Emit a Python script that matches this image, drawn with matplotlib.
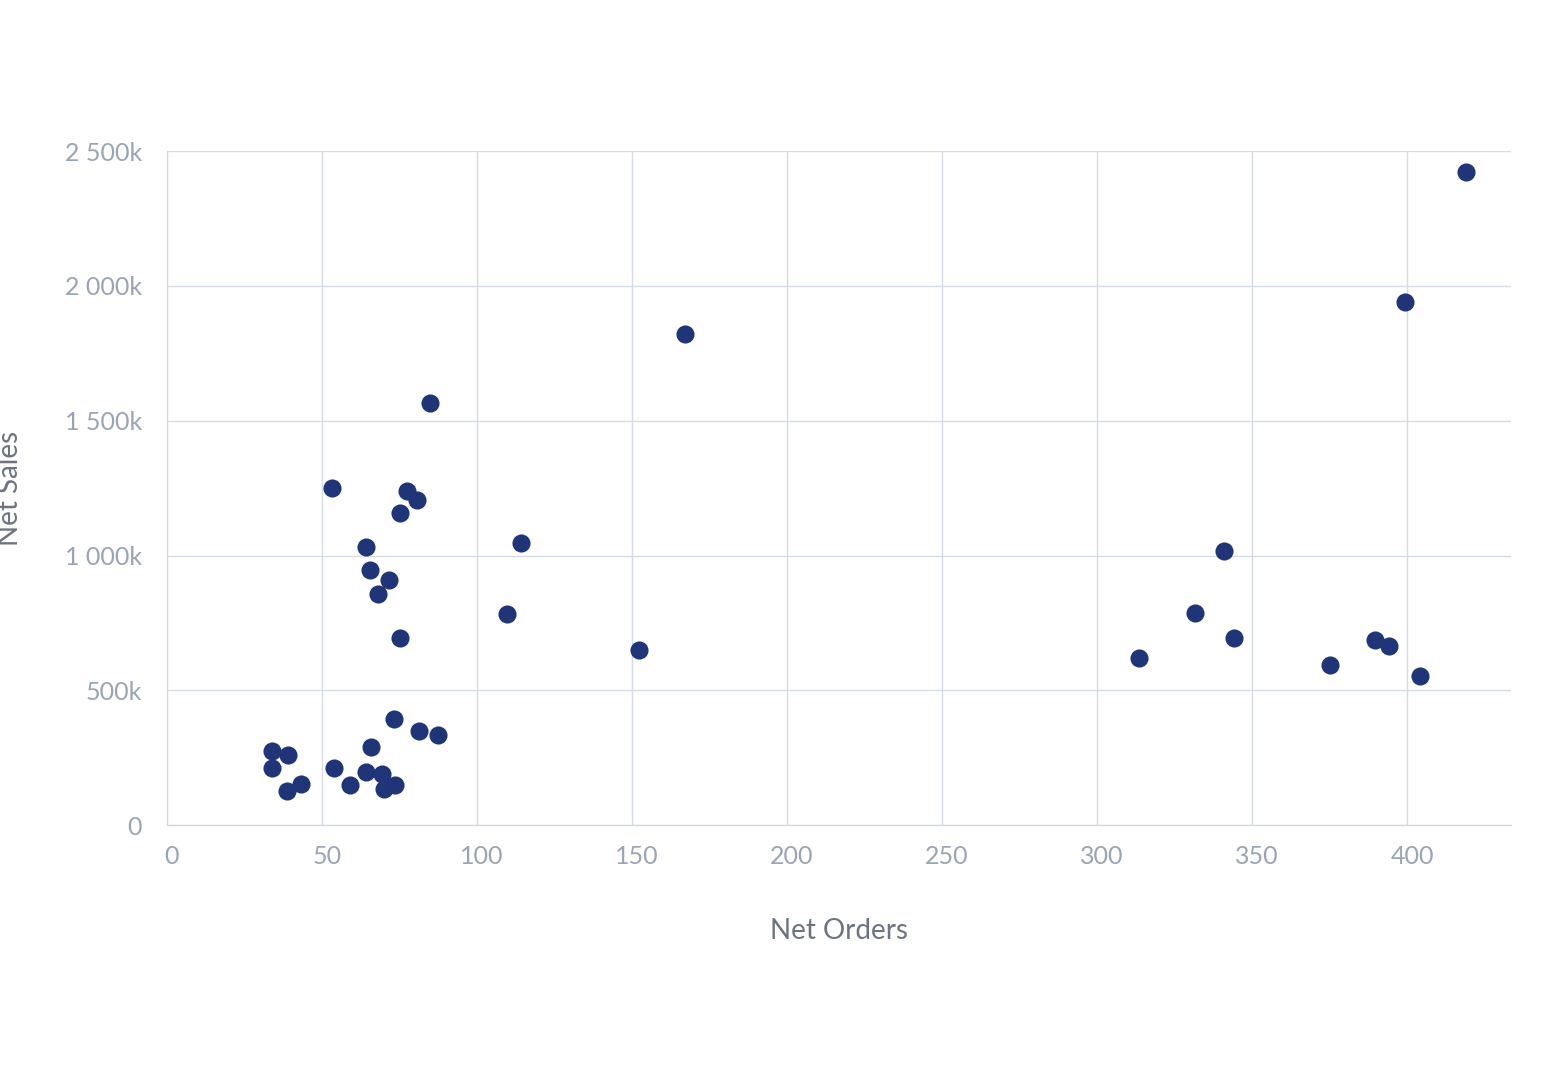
import matplotlib
matplotlib.use("Agg")
from matplotlib import pyplot as plt
from matplotlib.ticker import FuncFormatter
from matplotlib.transforms import ScaledTranslation

# data (Net Sales in thousands)
net_orders = [419, 399.4, 167.1, 84.8, 53.2, 77.4, 80.6, 75.2, 114.2, 64.2, 341, 65.5, 71.6,
              68.1, 109.7, 331.6, 75.2, 344.2, 389.7, 394.2, 152.3, 313.5, 375.2, 404.2, 73.2,
              81.3, 87.4, 65.8, 33.9, 39.0, 33.9, 53.9, 64.2, 69.4, 43.2, 59.0, 73.5, 70.0, 38.7]
net_sales = [2422, 1940, 1821, 1565, 1250, 1239, 1205, 1157, 1046, 1031, 1016, 946, 909,
             857, 783, 786, 694, 694, 686, 664, 649, 619, 593, 553, 393,
             349, 334, 289, 274, 260, 211, 211, 197, 189, 152, 148, 148, 134, 126]

plt.rcParams['font.family'] = ['Lato', 'DejaVu Sans']

fig = plt.figure(figsize=(15.6, 10.8), dpi=100)
ax = fig.add_axes([0.107, 0.236, 0.8616, 0.624])
ax.scatter(net_orders, net_sales, s=170, color="#1f3577", zorder=3, linewidths=0)

ax.set_xlim(0, 433.5)
ax.set_ylim(0, 2500)
ax.set_xticks(range(0, 401, 50))
ax.set_yticks(range(0, 2501, 500))


def fmt_k(v, pos):
    if v == 0:
        return "0"
    s = f"{int(v):,}".replace(",", " ")
    return s + "k"


ax.yaxis.set_major_formatter(FuncFormatter(fmt_k))
ax.grid(True, color="#d5dce6", linewidth=1)
ax.set_axisbelow(True)
for side in ["top", "right"]:
    ax.spines[side].set_visible(False)
for side in ["left", "bottom"]:
    ax.spines[side].set_color("#ccd4df")
ax.tick_params(length=0, colors="#9aa5b4", labelsize=18)
ax.tick_params(axis="x", pad=14)
ax.tick_params(axis="y", pad=18)
shift = ScaledTranslation(5 / 100, 0, fig.dpi_scale_trans)
for lbl in ax.get_xticklabels():
    lbl.set_transform(lbl.get_transform() + shift)

ax.set_xlabel("Net Orders", fontsize=20, color="#6b7480", labelpad=36)
ax.set_ylabel("Net Sales", fontsize=20, color="#6b7480", labelpad=30)

fig.savefig("out.png", dpi=100)
